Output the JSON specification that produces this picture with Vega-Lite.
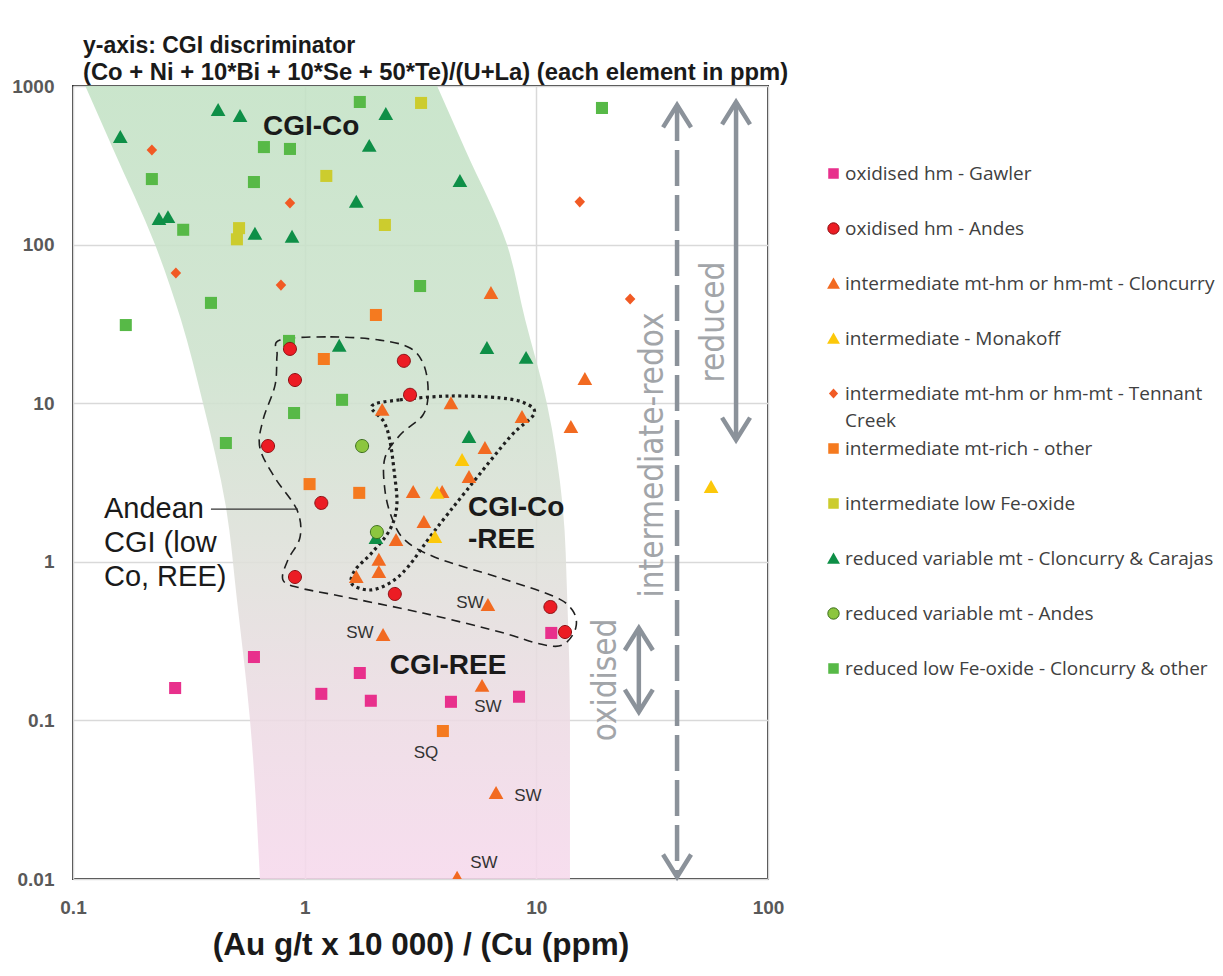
{
  "$schema": "https://vega.github.io/schema/vega-lite/v6.json",
  "autosize": {"type": "none"},
  "padding": {"left": 73, "top": 86, "right": 455, "bottom": 97},
  "width": 695,
  "height": 793,
  "background": "white",
  "title": {
    "text": "y-axis: CGI discriminator",
    "subtitle": "(Co + Ni + 10*Bi + 10*Se + 50*Te)/(U+La) (each element in ppm)",
    "anchor": "start",
    "frame": "group",
    "dx": 10,
    "offset": -8,
    "font": "Liberation Sans, Arial, sans-serif",
    "fontSize": 23,
    "fontWeight": "bold",
    "color": "#1a1a1a",
    "subtitleFont": "Liberation Sans, Arial, sans-serif",
    "subtitleFontSize": 23.8,
    "subtitleFontWeight": "bold",
    "subtitleColor": "#1a1a1a",
    "subtitlePadding": 3
  },
  "config": {
    "view": {"stroke": "#333333", "strokeWidth": 2},
    "style": {"guide-label": {"lineHeight": 27}},
    "axis": {
      "domain": false,
      "ticks": false,
      "grid": true,
      "gridColor": "#d9d9d9",
      "gridWidth": 1.5,
      "labelFont": "Liberation Sans, Arial, sans-serif",
      "labelFontSize": 19,
      "labelFontWeight": "bold",
      "labelColor": "#595959",
      "labelPadding": 19,
      "titleFont": "Liberation Sans, Arial, sans-serif",
      "titleFontSize": 31.5,
      "titleFontWeight": "bold",
      "titleColor": "#1a1a1a",
      "titlePadding": 12
    }
  },
  "datasets": {
    "band": [
      {"y": 1000, "x": 0.113, "x2": 3.73},
      {"y": 401, "x": 0.149, "x2": 4.92},
      {"y": 100, "x": 0.226, "x2": 7.47},
      {"y": 33.8, "x": 0.292, "x2": 8.94},
      {"y": 10, "x": 0.364, "x2": 11.1},
      {"y": 2.23, "x": 0.457, "x2": 13.0},
      {"y": 0.577, "x": 0.51, "x2": 13.6},
      {"y": 0.1, "x": 0.581, "x2": 13.97},
      {"y": 0.01, "x": 0.641, "x2": 13.97}
    ],
    "andean": [
      {"o": 1, "x": 0.783, "y": 25.0}, {"o": 2, "x": 1.29, "y": 26.2}, {"o": 3, "x": 2.11, "y": 25.0},
      {"o": 4, "x": 2.85, "y": 22.3}, {"o": 5, "x": 3.27, "y": 17.4}, {"o": 6, "x": 3.41, "y": 11.8},
      {"o": 7, "x": 3.24, "y": 8.43}, {"o": 8, "x": 2.58, "y": 6.3}, {"o": 9, "x": 2.22, "y": 4.51},
      {"o": 10, "x": 2.22, "y": 2.84}, {"o": 11, "x": 2.38, "y": 1.89}, {"o": 12, "x": 2.71, "y": 1.37},
      {"o": 13, "x": 3.65, "y": 1.07}, {"o": 14, "x": 6.97, "y": 0.791}, {"o": 15, "x": 11.8, "y": 0.609},
      {"o": 16, "x": 14.3, "y": 0.497}, {"o": 17, "x": 14.8, "y": 0.383}, {"o": 18, "x": 13.0, "y": 0.299},
      {"o": 19, "x": 10.4, "y": 0.303}, {"o": 20, "x": 6.97, "y": 0.361}, {"o": 21, "x": 3.24, "y": 0.475},
      {"o": 22, "x": 1.42, "y": 0.609}, {"o": 23, "x": 0.955, "y": 0.684}, {"o": 24, "x": 0.806, "y": 0.768},
      {"o": 25, "x": 0.847, "y": 1.03}, {"o": 26, "x": 0.955, "y": 1.43}, {"o": 27, "x": 0.927, "y": 2.12},
      {"o": 28, "x": 0.745, "y": 3.38}, {"o": 29, "x": 0.641, "y": 5.22}, {"o": 30, "x": 0.661, "y": 7.84},
      {"o": 31, "x": 0.745, "y": 13.0}, {"o": 32, "x": 0.76, "y": 20.1}
    ],
    "coree": [
      {"o": 1, "x": 1.95, "y": 9.6}, {"o": 2, "x": 2.58, "y": 10.5}, {"o": 3, "x": 4.24, "y": 11.1},
      {"o": 4, "x": 6.97, "y": 10.8}, {"o": 5, "x": 8.93, "y": 10.0}, {"o": 6, "x": 9.77, "y": 8.55},
      {"o": 7, "x": 7.7, "y": 6.12}, {"o": 8, "x": 5.02, "y": 2.84}, {"o": 9, "x": 3.58, "y": 1.52},
      {"o": 10, "x": 2.79, "y": 0.927}, {"o": 11, "x": 2.33, "y": 0.735}, {"o": 12, "x": 1.91, "y": 0.664},
      {"o": 13, "x": 1.6, "y": 0.724}, {"o": 14, "x": 1.65, "y": 0.887}, {"o": 15, "x": 1.95, "y": 1.14},
      {"o": 16, "x": 2.33, "y": 1.59}, {"o": 17, "x": 2.5, "y": 2.28}, {"o": 18, "x": 2.43, "y": 3.79},
      {"o": 19, "x": 2.33, "y": 5.86}, {"o": 20, "x": 2.2, "y": 7.61}
    ],
    "leader": [{"x": 0.394, "x2": 0.936, "y": 2.15}],
    "shafts": [
      {"k": "dashed", "x": 40.5, "y": 759, "y2": 0.0103},
      {"k": "solid", "x": 72.8, "y": 793, "y2": 5.86},
      {"k": "solid", "x": 27.7, "y": 0.383, "y2": 0.113}
    ],
    "tips": [
      {"d": "up", "x": 40.5, "y": 759}, {"d": "up", "x": 72.8, "y": 793}, {"d": "up", "x": 27.7, "y": 0.383},
      {"d": "down", "x": 40.5, "y": 0.0103}, {"d": "down", "x": 72.8, "y": 5.86}, {"d": "down", "x": 27.7, "y": 0.113}
    ],
    "graytext": [
      {"x": 31.9, "y": 4.71, "t": "intermediate-redox"},
      {"x": 58.5, "y": 32.5, "t": "reduced"},
      {"x": 20.0, "y": 0.18, "t": "oxidised"}
    ],
    "regions": [
      {"x": 0.661, "y": 551, "t": "CGI-Co"},
      {"x": 5.07, "y": 2.18, "t": "CGI-Co"},
      {"x": 5.07, "y": 1.37, "t": "-REE"},
      {"x": 2.33, "y": 0.22, "t": "CGI-REE"}
    ],
    "andeantext": [
      {"x": 0.136, "y": 2.15, "t": "Andean"},
      {"x": 0.136, "y": 1.31, "t": "CGI (low"},
      {"x": 0.136, "y": 0.802, "t": "Co, REE)"}
    ],
    "small": [
      {"x": 5.17, "y": 0.55, "t": "SW"},
      {"x": 1.73, "y": 0.356, "t": "SW"},
      {"x": 6.18, "y": 0.1215, "t": "SW"},
      {"x": 3.34, "y": 0.0623, "t": "SQ"},
      {"x": 9.2, "y": 0.0334, "t": "SW"},
      {"x": 5.94, "y": 0.0126, "t": "SW"}
    ],
    "pts": [
      {"g": "reduced low Fe-oxide - Cloncurry & other", "x": 1.73, "y": 793},
      {"g": "reduced low Fe-oxide - Cloncurry & other", "x": 0.667, "y": 412},
      {"g": "reduced low Fe-oxide - Cloncurry & other", "x": 0.864, "y": 401},
      {"g": "reduced low Fe-oxide - Cloncurry & other", "x": 0.219, "y": 259},
      {"g": "reduced low Fe-oxide - Cloncurry & other", "x": 0.604, "y": 248},
      {"g": "reduced low Fe-oxide - Cloncurry & other", "x": 0.299, "y": 124},
      {"g": "reduced low Fe-oxide - Cloncurry & other", "x": 3.15, "y": 54.8},
      {"g": "reduced low Fe-oxide - Cloncurry & other", "x": 0.394, "y": 42.9},
      {"g": "reduced low Fe-oxide - Cloncurry & other", "x": 0.169, "y": 31.1},
      {"g": "reduced low Fe-oxide - Cloncurry & other", "x": 0.856, "y": 24.7},
      {"g": "reduced low Fe-oxide - Cloncurry & other", "x": 19.2, "y": 727},
      {"g": "reduced low Fe-oxide - Cloncurry & other", "x": 1.45, "y": 10.5},
      {"g": "reduced low Fe-oxide - Cloncurry & other", "x": 0.9, "y": 8.67},
      {"g": "reduced low Fe-oxide - Cloncurry & other", "x": 0.457, "y": 5.61},
      {"g": "intermediate low Fe-oxide", "x": 3.18, "y": 782},
      {"g": "intermediate low Fe-oxide", "x": 1.24, "y": 271},
      {"g": "intermediate low Fe-oxide", "x": 2.22, "y": 133},
      {"g": "intermediate low Fe-oxide", "x": 0.521, "y": 127},
      {"g": "intermediate low Fe-oxide", "x": 0.51, "y": 108},
      {"g": "intermediate mt-rich - other", "x": 2.03, "y": 36.0},
      {"g": "intermediate mt-rich - other", "x": 1.21, "y": 19.0},
      {"g": "intermediate mt-rich - other", "x": 1.05, "y": 3.09},
      {"g": "intermediate mt-rich - other", "x": 1.72, "y": 2.72},
      {"g": "intermediate mt-rich - other", "x": 3.95, "y": 0.0857},
      {"g": "oxidised hm - Gawler", "x": 0.604, "y": 0.251},
      {"g": "oxidised hm - Gawler", "x": 0.276, "y": 0.16},
      {"g": "oxidised hm - Gawler", "x": 1.73, "y": 0.199},
      {"g": "oxidised hm - Gawler", "x": 1.18, "y": 0.147},
      {"g": "oxidised hm - Gawler", "x": 1.93, "y": 0.133},
      {"g": "oxidised hm - Gawler", "x": 4.28, "y": 0.131},
      {"g": "oxidised hm - Gawler", "x": 8.42, "y": 0.141},
      {"g": "oxidised hm - Gawler", "x": 11.6, "y": 0.356},
      {"g": "intermediate mt-hm or hm-mt - Tennant Creek", "x": 0.219, "y": 395},
      {"g": "intermediate mt-hm or hm-mt - Tennant Creek", "x": 0.864, "y": 183},
      {"g": "intermediate mt-hm or hm-mt - Tennant Creek", "x": 0.278, "y": 66.2},
      {"g": "intermediate mt-hm or hm-mt - Tennant Creek", "x": 0.79, "y": 55.6},
      {"g": "intermediate mt-hm or hm-mt - Tennant Creek", "x": 15.4, "y": 186},
      {"g": "intermediate mt-hm or hm-mt - Tennant Creek", "x": 25.4, "y": 45.4},
      {"g": "reduced variable mt - Cloncurry & Carajas", "x": 0.16, "y": 477},
      {"g": "reduced variable mt - Cloncurry & Carajas", "x": 0.423, "y": 706},
      {"g": "reduced variable mt - Cloncurry & Carajas", "x": 0.526, "y": 647},
      {"g": "reduced variable mt - Cloncurry & Carajas", "x": 2.24, "y": 666},
      {"g": "reduced variable mt - Cloncurry & Carajas", "x": 1.9, "y": 419},
      {"g": "reduced variable mt - Cloncurry & Carajas", "x": 1.67, "y": 186},
      {"g": "reduced variable mt - Cloncurry & Carajas", "x": 0.235, "y": 145},
      {"g": "reduced variable mt - Cloncurry & Carajas", "x": 0.257, "y": 149},
      {"g": "reduced variable mt - Cloncurry & Carajas", "x": 0.61, "y": 117},
      {"g": "reduced variable mt - Cloncurry & Carajas", "x": 0.882, "y": 112},
      {"g": "reduced variable mt - Cloncurry & Carajas", "x": 1.41, "y": 23.0},
      {"g": "reduced variable mt - Cloncurry & Carajas", "x": 4.68, "y": 252},
      {"g": "reduced variable mt - Cloncurry & Carajas", "x": 6.12, "y": 22.3},
      {"g": "reduced variable mt - Cloncurry & Carajas", "x": 9.03, "y": 19.3},
      {"g": "reduced variable mt - Cloncurry & Carajas", "x": 5.12, "y": 6.12},
      {"g": "reduced variable mt - Cloncurry & Carajas", "x": 2.03, "y": 1.41},
      {"g": "intermediate mt-hm or hm-mt - Cloncurry", "x": 6.37, "y": 49.5},
      {"g": "intermediate mt-hm or hm-mt - Cloncurry", "x": 16.2, "y": 14.2},
      {"g": "intermediate mt-hm or hm-mt - Cloncurry", "x": 2.16, "y": 9.07},
      {"g": "intermediate mt-hm or hm-mt - Cloncurry", "x": 4.28, "y": 10.0},
      {"g": "intermediate mt-hm or hm-mt - Cloncurry", "x": 8.67, "y": 8.18},
      {"g": "intermediate mt-hm or hm-mt - Cloncurry", "x": 14.1, "y": 7.08},
      {"g": "intermediate mt-hm or hm-mt - Cloncurry", "x": 6.0, "y": 5.22},
      {"g": "intermediate mt-hm or hm-mt - Cloncurry", "x": 5.12, "y": 3.42},
      {"g": "intermediate mt-hm or hm-mt - Cloncurry", "x": 2.94, "y": 2.75},
      {"g": "intermediate mt-hm or hm-mt - Cloncurry", "x": 3.92, "y": 2.75},
      {"g": "intermediate mt-hm or hm-mt - Cloncurry", "x": 3.27, "y": 1.78},
      {"g": "intermediate mt-hm or hm-mt - Cloncurry", "x": 2.48, "y": 1.37},
      {"g": "intermediate mt-hm or hm-mt - Cloncurry", "x": 2.09, "y": 1.03},
      {"g": "intermediate mt-hm or hm-mt - Cloncurry", "x": 2.09, "y": 0.862},
      {"g": "intermediate mt-hm or hm-mt - Cloncurry", "x": 1.67, "y": 0.802},
      {"g": "intermediate mt-hm or hm-mt - Cloncurry", "x": 6.18, "y": 0.534},
      {"g": "intermediate mt-hm or hm-mt - Cloncurry", "x": 2.18, "y": 0.345},
      {"g": "intermediate mt-hm or hm-mt - Cloncurry", "x": 5.83, "y": 0.165},
      {"g": "intermediate mt-hm or hm-mt - Cloncurry", "x": 6.7, "y": 0.0348},
      {"g": "intermediate mt-hm or hm-mt - Cloncurry", "x": 4.55, "y": 0.0102},
      {"g": "intermediate - Monakoff", "x": 4.78, "y": 4.38},
      {"g": "intermediate - Monakoff", "x": 3.73, "y": 2.72},
      {"g": "intermediate - Monakoff", "x": 3.65, "y": 1.43},
      {"g": "intermediate - Monakoff", "x": 56.8, "y": 2.96},
      {"g": "reduced variable mt - Andes", "x": 1.77, "y": 5.37},
      {"g": "reduced variable mt - Andes", "x": 2.05, "y": 1.54},
      {"g": "oxidised hm - Andes", "x": 0.864, "y": 22.0},
      {"g": "oxidised hm - Andes", "x": 0.908, "y": 14.0},
      {"g": "oxidised hm - Andes", "x": 2.68, "y": 18.5},
      {"g": "oxidised hm - Andes", "x": 2.85, "y": 11.3},
      {"g": "oxidised hm - Andes", "x": 0.695, "y": 5.37},
      {"g": "oxidised hm - Andes", "x": 1.18, "y": 2.35},
      {"g": "oxidised hm - Andes", "x": 0.908, "y": 0.802},
      {"g": "oxidised hm - Andes", "x": 2.45, "y": 0.627},
      {"g": "oxidised hm - Andes", "x": 11.5, "y": 0.519},
      {"g": "oxidised hm - Andes", "x": 13.3, "y": 0.361}
    ]
  },
  "encoding": {
    "x": {
      "field": "x",
      "type": "quantitative",
      "scale": {"type": "log", "domain": [0.1, 100], "nice": false},
      "axis": {
        "values": [0.1, 1, 10, 100],
        "format": "~g",
        "title": "(Au g/t x 10 000) / (Cu (ppm)",
        "labelFlush": false,
        "labelOverlap": false
      }
    },
    "y": {
      "field": "y",
      "type": "quantitative",
      "scale": {"type": "log", "domain": [0.01, 1000], "nice": false},
      "axis": {
        "values": [0.01, 0.1, 1, 10, 100, 1000],
        "format": "~g",
        "title": null,
        "labelFlush": false,
        "labelOverlap": false
      }
    }
  },
  "layer": [
    {
      "data": {"name": "band"},
      "mark": {
        "type": "area",
        "orient": "horizontal",
        "interpolate": "monotone",
        "opacity": 0.88,
        "color": {
          "gradient": "linear",
          "x1": 0, "y1": 0, "x2": 0, "y2": 1,
          "stops": [
            {"offset": 0, "color": "#c3e2c5"},
            {"offset": 0.35, "color": "#cde2cd"},
            {"offset": 0.6, "color": "#dfe0da"},
            {"offset": 0.8, "color": "#eddbe4"},
            {"offset": 1, "color": "#f6d9ec"}
          ]
        }
      },
      "encoding": {"x2": {"field": "x2"}}
    },
    {
      "data": {"name": "andean"},
      "mark": {"type": "line", "interpolate": "cardinal-closed", "color": "#1f1f1f", "strokeWidth": 1.6, "strokeDash": [9, 6]},
      "encoding": {"order": {"field": "o", "type": "quantitative"}}
    },
    {
      "data": {"name": "coree"},
      "mark": {"type": "line", "interpolate": "cardinal-closed", "color": "#1f1f1f", "strokeWidth": 3.2, "strokeDash": [3, 3.5]},
      "encoding": {"order": {"field": "o", "type": "quantitative"}}
    },
    {
      "data": {"name": "leader"},
      "mark": {"type": "rule", "color": "#333333", "strokeWidth": 1.3},
      "encoding": {"x2": {"field": "x2"}}
    },
    {
      "data": {"name": "shafts"},
      "transform": [{"filter": "datum.k == 'solid'"}],
      "mark": {"type": "rule", "color": "#8b929a", "strokeWidth": 4.5},
      "encoding": {"y2": {"field": "y2"}}
    },
    {
      "data": {"name": "shafts"},
      "transform": [{"filter": "datum.k == 'dashed'"}],
      "mark": {"type": "rule", "color": "#8b929a", "strokeWidth": 4.5, "strokeDash": [36, 9]},
      "encoding": {"y2": {"field": "y2"}}
    },
    {
      "data": {"name": "tips"},
      "transform": [{"filter": "datum.d == 'up'"}],
      "mark": {"type": "point", "shape": "M-1,1.6L0,0L1,1.6", "size": 784, "filled": false, "color": "#8b929a", "strokeWidth": 4.5, "opacity": 1}
    },
    {
      "data": {"name": "tips"},
      "transform": [{"filter": "datum.d == 'down'"}],
      "mark": {"type": "point", "shape": "M-1,-1.6L0,0L1,-1.6", "size": 784, "filled": false, "color": "#8b929a", "strokeWidth": 4.5, "opacity": 1}
    },
    {
      "data": {"name": "graytext"},
      "mark": {"type": "text", "angle": 270, "align": "center", "baseline": "middle", "font": "DejaVu Sans Condensed, sans-serif", "fontSize": 33, "color": "#a2a5a9"},
      "encoding": {"text": {"field": "t"}}
    },
    {
      "data": {"name": "regions"},
      "mark": {"type": "text", "align": "left", "baseline": "middle", "font": "Liberation Sans, Arial, sans-serif", "fontSize": 28, "fontWeight": "bold", "color": "#1a1a1a"},
      "encoding": {"text": {"field": "t"}}
    },
    {
      "data": {"name": "andeantext"},
      "mark": {"type": "text", "align": "left", "baseline": "middle", "font": "Liberation Sans, Arial, sans-serif", "fontSize": 29, "color": "#1a1a1a"},
      "encoding": {"text": {"field": "t"}}
    },
    {
      "data": {"name": "pts"},
      "mark": {"type": "point", "filled": true, "size": 196, "strokeWidth": 1, "opacity": 1, "clip": true},
      "encoding": {
        "color": {
          "field": "g", "type": "nominal",
          "scale": {
            "domain": ["oxidised hm - Gawler", "oxidised hm - Andes", "intermediate mt-hm or hm-mt - Cloncurry", "intermediate - Monakoff", "intermediate mt-hm or hm-mt - Tennant Creek", "intermediate mt-rich - other", "intermediate low Fe-oxide", "reduced variable mt - Cloncurry & Carajas", "reduced variable mt - Andes", "reduced low Fe-oxide - Cloncurry & other"],
            "range": ["#e8308c", "#ec1c24", "#f26a21", "#fcc80a", "#f15a24", "#f57a1f", "#cccc2e", "#0e8f47", "#8cc63f", "#57b947"]
          },
          "legend": {
            "title": null, "orient": "none", "legendX": 751, "legendY": 78, "padding": 0,
            "symbolSize": 150, "symbolStrokeWidth": 1,
            "labelFont": "Open Sans, sans-serif", "labelFontSize": 19, "labelColor": "#404040",
            "labelLimit": 600, "labelOffset": 2, "rowPadding": 8,
            "labelExpr": "datum.label == 'intermediate mt-hm or hm-mt - Tennant Creek' ? ['intermediate mt-hm or hm-mt - Tennant', 'Creek'] : [datum.label, '']"
          }
        },
        "shape": {
          "field": "g", "type": "nominal",
          "scale": {
            "domain": ["oxidised hm - Gawler", "oxidised hm - Andes", "intermediate mt-hm or hm-mt - Cloncurry", "intermediate - Monakoff", "intermediate mt-hm or hm-mt - Tennant Creek", "intermediate mt-rich - other", "intermediate low Fe-oxide", "reduced variable mt - Cloncurry & Carajas", "reduced variable mt - Andes", "reduced low Fe-oxide - Cloncurry & other"],
            "range": [
              "M-0.86,-0.86L0.86,-0.86L0.86,0.86L-0.86,0.86Z",
              "M0.93,0A0.93,0.93,0,1,1,-0.93,0A0.93,0.93,0,1,1,0.93,0Z",
              "M0,-1L1.05,0.85L-1.05,0.85Z",
              "M0,-1L1.05,0.85L-1.05,0.85Z",
              "M0,-0.8L0.75,0L0,0.8L-0.75,0Z",
              "M-0.86,-0.86L0.86,-0.86L0.86,0.86L-0.86,0.86Z",
              "M-0.86,-0.86L0.86,-0.86L0.86,0.86L-0.86,0.86Z",
              "M0,-1L1.05,0.85L-1.05,0.85Z",
              "M0.93,0A0.93,0.93,0,1,1,-0.93,0A0.93,0.93,0,1,1,0.93,0Z",
              "M-0.86,-0.86L0.86,-0.86L0.86,0.86L-0.86,0.86Z"
            ]
          },
          "legend": {
            "title": null, "orient": "none", "legendX": 751, "legendY": 78, "padding": 0,
            "symbolSize": 150, "symbolStrokeWidth": 1,
            "labelFont": "Open Sans, sans-serif", "labelFontSize": 19, "labelColor": "#404040",
            "labelLimit": 600, "labelOffset": 2, "rowPadding": 8,
            "labelExpr": "datum.label == 'intermediate mt-hm or hm-mt - Tennant Creek' ? ['intermediate mt-hm or hm-mt - Tennant', 'Creek'] : [datum.label, '']"
          }
        },
        "stroke": {
          "field": "g", "type": "nominal",
          "scale": {
            "domain": ["oxidised hm - Gawler", "oxidised hm - Andes", "intermediate mt-hm or hm-mt - Cloncurry", "intermediate - Monakoff", "intermediate mt-hm or hm-mt - Tennant Creek", "intermediate mt-rich - other", "intermediate low Fe-oxide", "reduced variable mt - Cloncurry & Carajas", "reduced variable mt - Andes", "reduced low Fe-oxide - Cloncurry & other"],
            "range": ["rgba(0,0,0,0)", "#8c1014", "rgba(0,0,0,0)", "rgba(0,0,0,0)", "rgba(0,0,0,0)", "rgba(0,0,0,0)", "rgba(0,0,0,0)", "rgba(0,0,0,0)", "#3c6e1e", "rgba(0,0,0,0)"]
          },
          "legend": {
            "title": null, "orient": "none", "legendX": 751, "legendY": 78, "padding": 0,
            "symbolSize": 150, "symbolStrokeWidth": 1,
            "labelFont": "Open Sans, sans-serif", "labelFontSize": 19, "labelColor": "#404040",
            "labelLimit": 600, "labelOffset": 2, "rowPadding": 8,
            "labelExpr": "datum.label == 'intermediate mt-hm or hm-mt - Tennant Creek' ? ['intermediate mt-hm or hm-mt - Tennant', 'Creek'] : [datum.label, '']"
          }
        }
      }
    },
    {
      "data": {"name": "small"},
      "mark": {"type": "text", "align": "center", "baseline": "middle", "font": "Liberation Sans, Arial, sans-serif", "fontSize": 17, "color": "#333333"},
      "encoding": {"text": {"field": "t"}}
    }
  ]
}
